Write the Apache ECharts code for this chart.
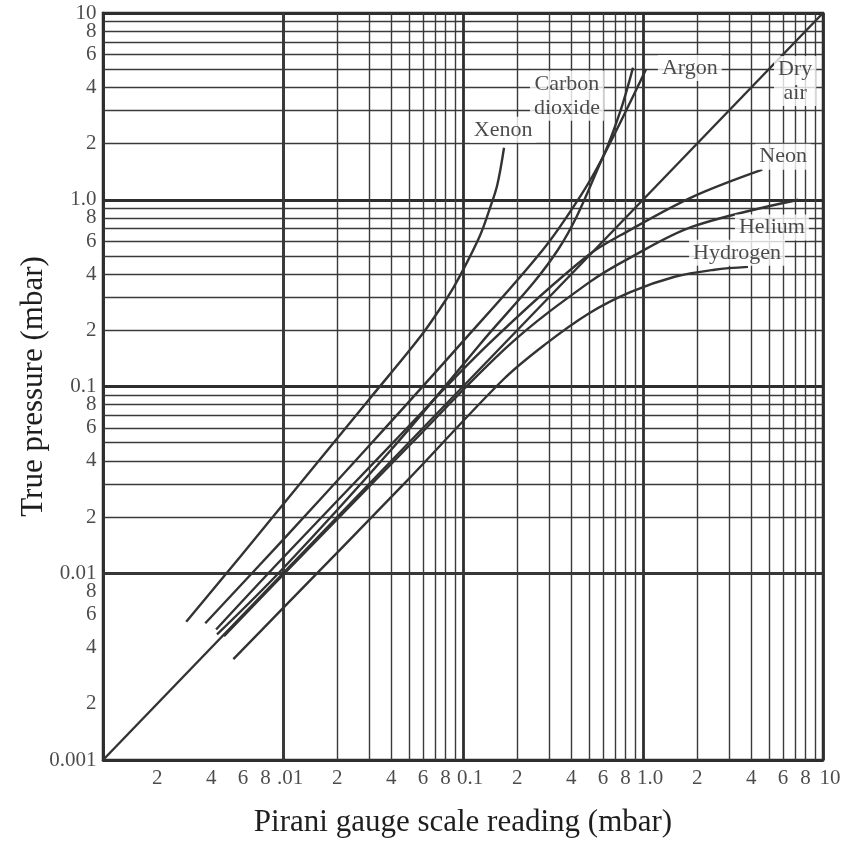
<!DOCTYPE html>
<html>
<head>
<meta charset="utf-8">
<script src="https://cdn.jsdelivr.net/npm/echarts@6/dist/echarts.min.js"></script>
<style>
  html, body { margin: 0; padding: 0; background: #fff; }
  #main { width: 852px; height: 843px; }
</style>
</head>
<body>
<div id="main"></div>
<script>
// curves: [pirani reading, true pressure] in mbar
const dryAir = [[0.001, 0.001], [10, 10]];
const xenon = [[0.0029, 0.0055], [0.0058, 0.0123], [0.030, 0.085], [0.058, 0.185], [0.082, 0.30],
  [0.096, 0.39], [0.124, 0.64], [0.141, 0.90], [0.155, 1.2], [0.169, 1.9]];
const argon = [[0.0037, 0.0054], [0.01, 0.0151], [0.03, 0.048], [0.095, 0.165], [0.278, 0.54],
  [0.45, 1.05], [0.6, 1.7], [1.04, 5.0]];
const carbonDioxide = [[0.0043, 0.0047], [0.01, 0.0106], [0.04, 0.046], [0.124, 0.168], [0.337, 0.54],
  [0.6, 1.7], [0.75, 3.0], [0.88, 5.1]];
const neon = [[0.00425, 0.005], [0.01, 0.0121], [0.04, 0.049], [0.138, 0.168], [0.486, 0.497],
  [0.85, 0.69], [1.9, 1.04], [4.6, 1.45]];
const helium = [[0.0047, 0.0046], [0.01, 0.0098], [0.05, 0.048], [0.182, 0.168], [0.5, 0.36],
  [0.85, 0.49], [1.9, 0.72], [7.3, 1.0]];
const hydrogen = [[0.0053, 0.00347], [0.01, 0.0065], [0.05, 0.032], [0.1675, 0.109], [0.286, 0.168],
  [0.5, 0.246], [0.85, 0.32], [1.5, 0.387], [2.5, 0.422], [3.83, 0.437]];

const gasNames = ['Xenon', 'Carbon\ndioxide', 'Argon', 'Dry\nair', 'Neon', 'Helium', 'Hydrogen'];
const gasLabelAt = [[0.167, 2.37], [0.378, 3.6], [1.82, 5.08], [7.0, 4.33], [6.0, 1.7], [5.2, 0.71], [3.33, 0.52]];

const xTickValues = [0.002, 0.004, 0.006, 0.008, 0.01, 0.02, 0.04, 0.06, 0.08, 0.1,
  0.2, 0.4, 0.6, 0.8, 1, 2, 4, 6, 8, 10];
const xTickLabels = ['2', '4', '6', '8', '.01', '2', '4', '6', '8', '0.1',
  '2', '4', '6', '8', '1.0', '2', '4', '6', '8', '10'];
const yTickValues = [0.001, 0.002, 0.004, 0.006, 0.008, 0.01, 0.02, 0.04, 0.06, 0.08, 0.1,
  0.2, 0.4, 0.6, 0.8, 1, 2, 4, 6, 8, 10];
const yTickLabels = ['0.001', '2', '4', '6', '8', '0.01', '2', '4', '6', '8', '0.1',
  '2', '4', '6', '8', '1.0', '2', '4', '6', '8', '10'];
const decades = [0.001, 0.01, 0.1, 1];
const minorSteps = [2, 3, 4, 5, 6, 7, 8, 9];

const FONT = "'Liberation Serif', 'DejaVu Serif', serif";
const INK = '#1e1e1e';
const LINE = '#2e2e2e';

let minorLines = [];
decades.forEach((d) => minorSteps.forEach((m) => minorLines.push(+(d * m).toPrecision(3))));

function curve(name, data, extra) {
  return Object.assign({
    name: name,
    type: 'line',
    data: data,
    smooth: 0.35,
    symbol: 'none',
    silent: true,
    z: 3,
    lineStyle: { color: '#333', width: 2.4 }
  }, extra || {});
}

let chart = echarts.init(document.getElementById('main'));

let option = {
  animation: false,
  backgroundColor: '#fff',
  grid: {
    left: 103, right: 29, top: 13, bottom: 82,
    show: true, borderColor: LINE, borderWidth: 2.5
  },
  xAxis: {
    type: 'log', logBase: 10, min: 0.001, max: 10,
    name: 'Pirani gauge scale reading (mbar)',
    nameLocation: 'middle', nameGap: 47,
    nameTextStyle: { fontFamily: FONT, fontSize: 31, color: INK },
    axisLine: { lineStyle: { color: LINE, width: 2.5 } },
    axisTick: { show: false },
    axisLabel: { show: false },
    splitLine: { show: true, lineStyle: { color: LINE, width: 2.8 } }
  },
  yAxis: {
    type: 'log', logBase: 10, min: 0.001, max: 10,
    name: 'True pressure (mbar)',
    nameLocation: 'middle', nameGap: 54,
    nameTextStyle: { fontFamily: FONT, fontSize: 31, color: INK },
    axisLine: { lineStyle: { color: LINE, width: 2.5 } },
    axisTick: { show: false },
    axisLabel: { show: false },
    splitLine: { show: true, lineStyle: { color: LINE, width: 2.8 } }
  },
  series: [
    curve('Dry air', dryAir, {
      markLine: {
        silent: true,
        z: 1,
        symbol: ['none', 'none'],
        label: { show: false },
        emphasis: { disabled: true },
        lineStyle: { color: '#3a3a3a', width: 1.4, type: 'solid' },
        data: minorLines.map((v) => ({ xAxis: v })).concat(minorLines.map((v) => ({ yAxis: v })))
      }
    }),
    curve('Xenon', xenon),
    curve('Argon', argon),
    curve('Carbon dioxide', carbonDioxide),
    curve('Neon', neon),
    curve('Helium', helium),
    curve('Hydrogen', hydrogen),
    {
      type: 'scatter', silent: true, clip: false, z: 4,
      symbolSize: 1, itemStyle: { color: 'rgba(0,0,0,0)' },
      label: { show: true, position: 'bottom', distance: 7, fontFamily: FONT, fontSize: 21, color: INK },
      data: xTickValues.map((v, i) => ({
        value: [v, 0.001],
        label: { formatter: xTickLabels[i], offset: [decades.concat([10]).indexOf(v) >= 0 ? 7 : 0, 0] }
      }))
    },
    {
      type: 'scatter', silent: true, clip: false, z: 4,
      symbolSize: 1, itemStyle: { color: 'rgba(0,0,0,0)' },
      label: { show: true, position: 'left', distance: 6, fontFamily: FONT, fontSize: 21, color: INK },
      data: yTickValues.map((v, i) => ({ value: [0.001, v], label: { formatter: yTickLabels[i] } }))
    },
    {
      type: 'scatter', silent: true, clip: false, z: 10,
      symbolSize: 1, itemStyle: { color: 'rgba(0,0,0,0)' },
      label: {
        show: true, position: 'inside', fontFamily: FONT, fontSize: 22, lineHeight: 24,
        color: INK, backgroundColor: '#fff', padding: [1, 4], align: 'center'
      },
      data: gasLabelAt.map((p, i) => ({ value: p, label: { formatter: gasNames[i] } }))
    }
  ]
};

chart.setOption(option);
</script>
</body>
</html>
